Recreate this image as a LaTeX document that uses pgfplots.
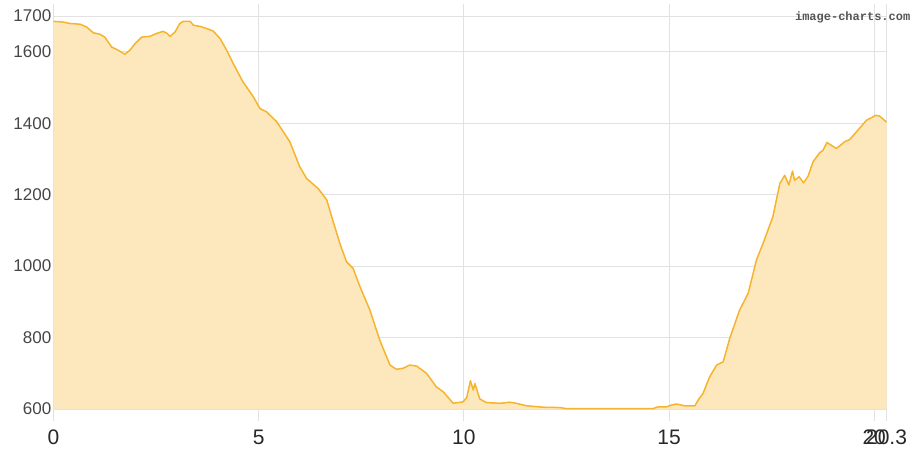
\documentclass[border=0pt]{standalone}
\usepackage{fontspec}
\setmainfont{Liberation Sans}
\newfontfamily\wmfont{Liberation Mono}
\usepackage{pgfplots}
\usepackage{pgfplotstable}
\pgfplotsset{compat=1.18}
\definecolor{fillc}{RGB}{253,232,190}
\definecolor{linec}{RGB}{246,180,45}
\definecolor{gridc}{RGB}{226,226,226}
\definecolor{ylab}{RGB}{70,70,70}
\definecolor{xlab}{RGB}{40,40,40}
\definecolor{wmc}{RGB}{85,85,85}
\pgfplotstableread{
x y
0.00 1685
0.24 1683
0.40 1679
0.65 1677
0.81 1669
0.97 1653
1.13 1649
1.25 1641
1.42 1613
1.58 1604
1.74 1593
1.86 1604
1.99 1623
2.15 1641
2.35 1643
2.51 1651
2.67 1657
2.76 1652
2.84 1643
2.96 1655
3.08 1679
3.16 1685
3.33 1685
3.41 1674
3.57 1671
3.73 1665
3.89 1658
4.06 1637
4.22 1604
4.38 1567
4.62 1515
4.87 1474
5.03 1441
5.19 1432
5.44 1404
5.76 1348
6.00 1278
6.17 1245
6.45 1217
6.66 1185
6.78 1138
6.98 1063
7.14 1012
7.30 994
7.47 942
7.71 877
7.95 793
8.20 723
8.36 711
8.52 714
8.68 723
8.85 720
9.09 700
9.33 662
9.50 648
9.74 616
9.98 620
10.07 632
10.16 679
10.23 653
10.27 671
10.39 628
10.55 618
10.88 616
11.12 619
11.28 616
11.53 609
11.93 605
12.34 604
12.50 601
13.31 601
14.61 601
14.73 606
14.94 606
15.06 611
15.18 614
15.38 609
15.63 609
15.71 625
15.83 644
15.99 690
16.16 723
16.32 732
16.48 798
16.72 877
16.93 924
17.13 1017
17.29 1063
17.53 1138
17.70 1231
17.82 1254
17.92 1227
18.01 1266
18.06 1240
18.17 1250
18.28 1233
18.39 1252
18.51 1292
18.67 1317
18.75 1324
18.85 1346
19.08 1329
19.28 1348
19.40 1354
19.57 1376
19.81 1408
20.04 1422
20.13 1420
20.27 1406
20.30 1403
}\elev
\begin{document}
\begin{tikzpicture}
\useasboundingbox (-53.5bp,-42bp) rectangle (867.5bp,409bp);
\begin{axis}[
  at={(0,0)}, anchor=south west,
  scale only axis,
  width=833bp, height=393bp,
  xmin=0, xmax=20.3, ymin=600, ymax=1700,
  xtick={0,5,10,15,20,20.3},
  xticklabels={0,5,10,15,20,20.3},
  ytick={600,800,1000,1200,1400,1600,1700},
  yticklabels={600,800,1000,1200,1400,1600,1700},
  axis line style={draw=none},
  grid=major,
  grid style={draw=gridc, line width=0.8bp},
  tick align=outside,
  xtick style={draw=gridc, line width=0.8bp},
  major tick length=12bp,
  ytick style={draw=none},
  xticklabel style={font=\fontsize{21bp}{24bp}\selectfont, text=xlab, anchor=north, inner sep=0pt, yshift=-9bp},
  yticklabel style={font=\fontsize{17bp}{20bp}\selectfont, text=ylab, anchor=east, inner sep=0pt, xshift=10bp},
  /pgf/number format/assume math mode=true,
  clip=false,
]
\addplot[fill=fillc, draw=none] table[x=x,y=y] {\elev} \closedcycle;
\addplot[draw=linec, line width=1.5bp, line join=round] table[x=x,y=y] {\elev};
\end{axis}
\node[anchor=east, inner sep=0pt, text=wmc, font=\wmfont\bfseries\fontsize{12bp}{14bp}\selectfont] at (857bp,391.5bp) {image-charts.com};
\end{tikzpicture}
\end{document}
